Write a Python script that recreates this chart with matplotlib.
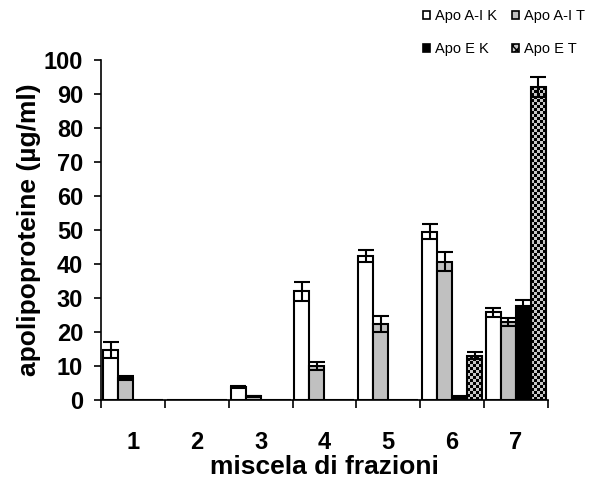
import numpy as np
import matplotlib
matplotlib.use("Agg")
import matplotlib.pyplot as plt
from matplotlib.patches import Patch
from matplotlib.colors import ListedColormap

plt.rcParams['font.family'] = ['Liberation Sans', 'DejaVu Sans']
plt.rcParams['hatch.linewidth'] = 1.0

categories = ["1", "2", "3", "4", "5", "6", "7"]
series_names = ["Apo A-I K", "Apo A-I T", "Apo E K", "Apo E T"]

apo_ai_k = [14.7, 0, 3.9, 31.9, 42.4, 49.5, 25.8]
apo_ai_k_err = [2.4, 0, 0.3, 2.9, 1.7, 2.3, 1.3]
apo_ai_t = [6.5, 0, 1.1, 10.0, 22.4, 40.7, 23.0]
apo_ai_t_err = [0.6, 0, 0.2, 1.1, 2.3, 2.8, 1.2]
apo_e_k = [0, 0, 0, 0, 0, 1.2, 27.7]
apo_e_k_err = [0, 0, 0, 0, 0, 0, 1.8]
apo_e_t = [0, 0, 0, 0, 0, 13.0, 92.0]
apo_e_t_err = [0, 0, 0, 0, 0, 1.1, 2.9]

values = [apo_ai_k, apo_ai_t, apo_e_k, apo_e_t]
errors = [apo_ai_k_err, apo_ai_t_err, apo_e_k_err, apo_e_t_err]
faces = ["white", "#c0c0c0", "black", "none"]

fig = plt.figure(figsize=(6.02, 4.79), dpi=100)
ax = fig.add_axes([0.168, 0.165, 0.742, 0.71])
ax.set_xlim(-0.5, len(categories) - 0.5)
ax.set_ylim(0, 100)

x = np.arange(len(categories))
width = 0.235
offsets = (np.arange(4) - 1.5) * width

bar_groups = []
for vals, errs, fc, name, off in zip(values, errors, faces, series_names, offsets):
    bars = ax.bar(x + off, vals, width, facecolor=fc, edgecolor="black", linewidth=1.5,
                  label=name, zorder=2.5)
    bar_groups.append(bars)
    vals_a = np.array(vals, dtype=float)
    errs_a = np.array(errs, dtype=float)
    mask = errs_a > 0
    ax.errorbar((x + off)[mask], vals_a[mask], yerr=errs_a[mask], fmt="none",
                ecolor="black", elinewidth=1.5, capsize=5.5, capthick=1.5, zorder=3)

# checkerboard fill for the Apo E T bars, clipped to each bar
checker_cmap = ListedColormap(["#c8c8c8", "black"])
cell_px = 3.0
fig.canvas.draw()
for rect in bar_groups[3]:
    h = rect.get_height()
    if h <= 0:
        continue
    x0 = rect.get_x()
    w = rect.get_width()
    (px0, py0), (px1, py1) = ax.transData.transform([(x0, 0), (x0 + w, h)])
    nx = max(1, int(round((px1 - px0) / cell_px)))
    ny = max(1, int(round((py1 - py0) / cell_px)))
    board = (np.add.outer(np.arange(ny), np.arange(nx)) % 2).astype(float)
    im = ax.imshow(board, cmap=checker_cmap, extent=(x0, x0 + w, 0, h),
                   origin="lower", interpolation="nearest", aspect="auto", zorder=2)
    im.set_clip_path(rect)

ax.set_xlim(-0.5, len(categories) - 0.5)
ax.set_ylim(0, 100)
ax.set_yticks(np.arange(0, 101, 10))
ax.set_yticklabels([str(v) for v in range(0, 101, 10)], fontsize=17, fontweight="bold")
ax.set_xticks(np.arange(-0.5, len(categories), 1.0))
ax.set_xticklabels([])
ax.set_xticks(x, minor=True)
ax.set_xticklabels(categories, minor=True, fontsize=17, fontweight="bold")
ax.tick_params(axis="x", which="minor", length=0, pad=22)
ax.tick_params(axis="x", which="major", length=6, width=1.2, direction="out")
ax.tick_params(axis="y", length=5, width=1.2, direction="out", pad=8)

for s in ["top", "right"]:
    ax.spines[s].set_visible(False)
for s in ["left", "bottom"]:
    ax.spines[s].set_linewidth(1.2)

ax.set_ylabel("apolipoproteine (µg/ml)", fontsize=19, fontweight="bold", labelpad=2)
ax.set_xlabel("miscela di frazioni", fontsize=19, fontweight="bold", labelpad=1)

legend_handles = [
    Patch(facecolor="white", edgecolor="black", linewidth=1.2),
    Patch(facecolor="#c0c0c0", edgecolor="black", linewidth=1.2),
    Patch(facecolor="black", edgecolor="black", linewidth=1.2),
    Patch(facecolor="#c8c8c8", edgecolor="black", linewidth=1.2, hatch="xxxx"),
]
# column-major fill: first column A-I K / E K, second column A-I T / E T
order = [0, 2, 1, 3]
fig.legend([legend_handles[i] for i in order], [series_names[i] for i in order],
           loc="upper left", bbox_to_anchor=(423 / 602, 1 - 9 / 479), ncol=2,
           frameon=False, fontsize=10.5, handlelength=0.5, handleheight=0.5,
           handletextpad=0.35, columnspacing=1.0, labelspacing=1.3,
           borderpad=0, borderaxespad=0)

fig.savefig("out.png", dpi=100)
